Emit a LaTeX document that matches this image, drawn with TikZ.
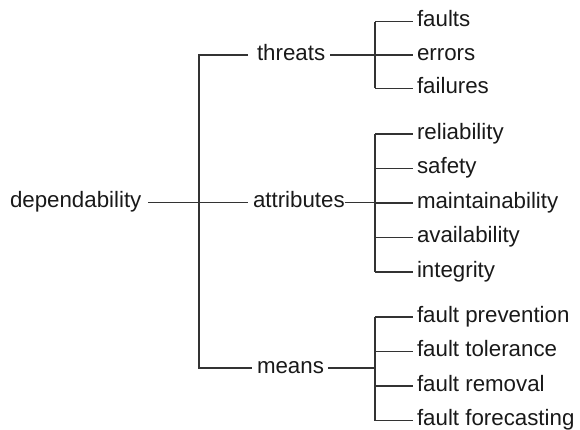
\documentclass[tikz,border=0pt]{standalone}
\usepackage{fontspec}
\setmainfont{Liberation Sans}
\tikzset{
  lbl/.style={anchor=west, inner sep=0pt, outer sep=0pt, text=black!90,
    font=\fontsize{22.3}{26}\selectfont, text height=16pt, text depth=6pt},
  conn/.style={draw=black!80, line width=1.1pt}
}
\begin{document}
\begin{tikzpicture}[x=1pt,y=-1pt]
\useasboundingbox (0,0) rectangle (580,429);
% level 0 and 1
\node[lbl] (dep) at (10,202.5) {dependability};
\node[lbl] (thr) at (257,55) {threats};
\node[lbl] (att) at (253,202.5) {attributes};
\node[lbl] (mea) at (257,368) {means};
% threats children
\node[lbl] (c1) at (417,21.7) {faults};
\node[lbl] (c2) at (417,55) {errors};
\node[lbl] (c3) at (417,88.3) {failures};
% attributes children
\node[lbl] (a1) at (417,134) {reliability};
\node[lbl] (a2) at (417,168.5) {safety};
\node[lbl] (a3) at (417,203) {maintainability};
\node[lbl] (a4) at (417,237.5) {availability};
\node[lbl] (a5) at (417,272) {integrity};
% means children
\node[lbl] (m1) at (417,317) {fault prevention};
\node[lbl] (m2) at (417,351.5) {fault tolerance};
\node[lbl] (m3) at (417,386) {fault removal};
\node[lbl] (m4) at (417,420.5) {fault forecasting};
% junction coordinates
\coordinate (tt) at (199,55);
\coordinate (tb) at (199,368);
\coordinate (vt1) at (375,21.7);
\coordinate (vt3) at (375,88.3);
\coordinate (vtm) at (375,55);
\coordinate (va1) at (375,134);
\coordinate (va5) at (375,272);
\coordinate (vam) at (375,202.5);
\coordinate (vm1) at (375,317);
\coordinate (vm4) at (375,420.5);
\coordinate (vmm) at (375,368);
% root
\draw[conn] ([xshift=7pt]dep.east) -- ([xshift=-5pt]att.west);
\draw[conn] ([xshift=-9pt]thr.west) -- (tt) -- (tb) -- ([xshift=-5pt]mea.west);
% threats
\draw[conn] ([xshift=5pt]thr.east) -- (vtm);
\draw[conn] (vt1) -- (vt3);
\foreach \c in {c1,c2,c3} \draw[conn] (vt1 |- \c.west) -- ([xshift=-4pt]\c.west);
% attributes
\draw[conn] (att.east) -- (vam);
\draw[conn] (va1) -- (va5);
\foreach \c in {a1,a2,a3,a4,a5} \draw[conn] (va1 |- \c.west) -- ([xshift=-4pt]\c.west);
% means
\draw[conn] ([xshift=4pt]mea.east) -- (vmm);
\draw[conn] (vm1) -- (vm4);
\foreach \c in {m1,m2,m3,m4} \draw[conn] (vm1 |- \c.west) -- ([xshift=-4pt]\c.west);
\end{tikzpicture}
\end{document}
